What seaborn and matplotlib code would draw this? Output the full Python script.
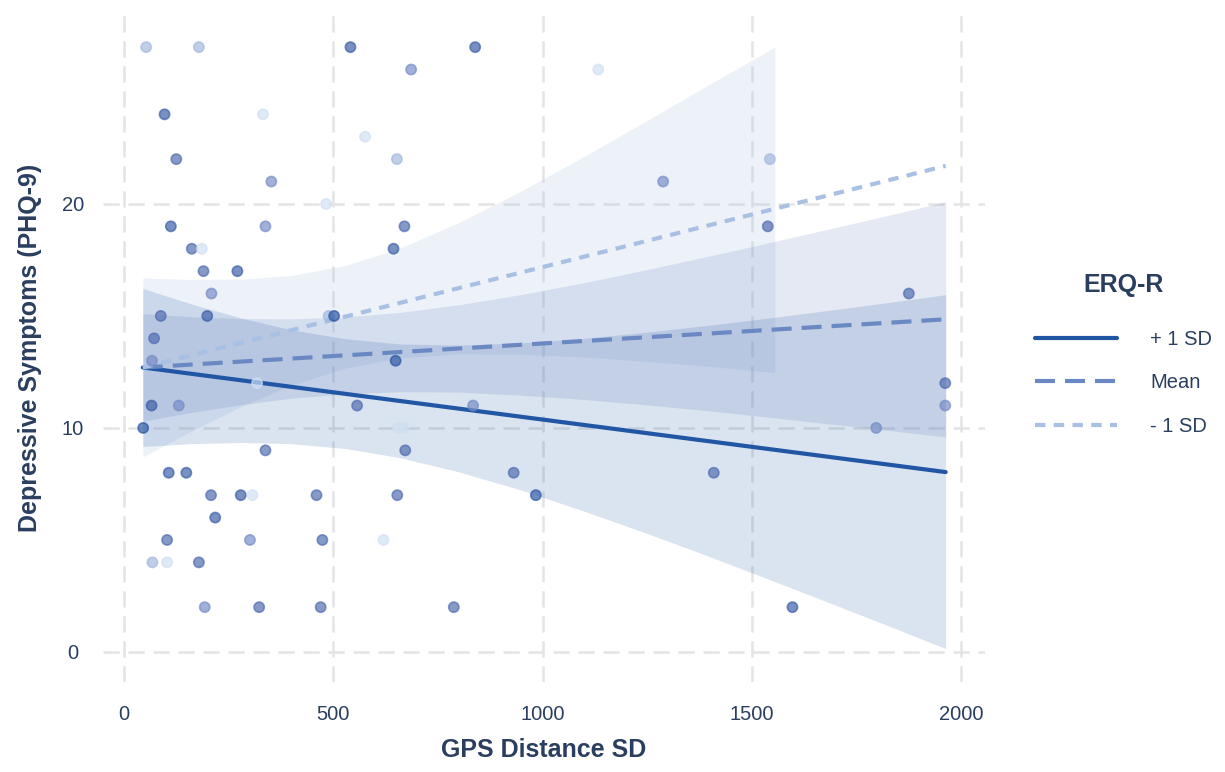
import numpy as np
import pandas as pd
import matplotlib
matplotlib.use("Agg")
import matplotlib.pyplot as plt
from matplotlib.colors import LinearSegmentedColormap
from matplotlib.lines import Line2D
import seaborn as sns

# Participants: GPS distance SD, PHQ-9 total, ERQ reappraisal score
gps_sd = [53, 179, 541, 97, 332, 125, 352, 483, 112, 338, 162, 186, 190, 271,
          209, 88, 199, 489, 502, 72, 67, 318, 66, 131, 557, 46, 338, 107, 149,
          208, 279, 307, 460, 218, 103, 301, 474, 68, 103, 179, 193, 323, 470,
          839, 686, 1133, 576, 652, 1288, 670, 644, 649, 834, 655, 667, 672,
          931, 1409, 653, 984, 620, 788, 1543, 1538, 1875, 1962, 1962, 1797,
          1597]
phq9 = [27, 27, 27, 24, 24, 22, 21, 20, 19, 19, 18, 18, 17, 17,
        16, 15, 15, 15, 15, 14, 13, 12, 11, 11, 11, 10, 9, 8, 8,
        7, 7, 7, 7, 6, 5, 5, 5, 4, 4, 4, 2, 2, 2,
        27, 26, 26, 23, 22, 21, 19, 18, 13, 11, 10, 10, 9,
        8, 8, 7, 7, 5, 2, 22, 19, 16, 12, 11, 10,
        2]
erq_r = [2.5, 2.5, 5.5, 5.5, 1.5, 4.5, 3.5, 1.5, 5.5, 3.5, 4.5, 1.5, 4.5, 5.5,
         3.5, 4.5, 5.5, 2.5, 6.5, 4.5, 3.5, 1.5, 5.5, 3.5, 4.5, 6.5, 4.5, 5.5, 5.5,
         4.5, 5.5, 1.5, 4.5, 5.5, 4.5, 3.5, 4.5, 2.5, 1.5, 4.5, 3.5, 4.5, 4.5,
         5.5, 3.5, 1.5, 1.5, 2.5, 3.5, 4.5, 5.5, 6.5, 3.5, 1.5, 1.5, 4.5,
         4.5, 4.5, 4.5, 6.5, 1.5, 4.5, 2.5, 4.5, 4.5, 4.5, 3.5, 3.5,
         5.5]

# Simple slopes of PHQ-9 on GPS distance SD at three ERQ-R levels
slope_x = [45, 1963]
plus_sd_fit = [12.70, 8.03]
mean_fit = [12.70, 14.85]
minus_sd_fit = [12.70, 21.70]

# Confidence bands around each simple slope
band_x = [45, 160, 280, 400, 530, 660, 800, 950, 1100, 1250, 1400, 1555,
          1700, 1835, 1963]
plus_sd_hi = [16.23, 15.54, 14.91, 14.38, 13.98, 13.75, 13.70, 13.80, 14.00,
              14.28, 14.59, 14.94, 15.29, 15.62, 15.95]
plus_sd_lo = [9.17, 9.30, 9.35, 9.30, 9.08, 8.67, 8.04, 7.22, 6.28, 5.29,
              4.25, 3.14, 2.09, 1.10, 0.15]
mean_hi = [15.10, 14.97, 14.88, 14.87, 14.96, 15.16, 15.50, 15.96, 16.49,
           17.07, 17.68, 18.33, 18.95, 19.53, 20.10]
mean_lo = [10.30, 10.69, 11.04, 11.33, 11.53, 11.62, 11.60, 11.46, 11.27,
           11.03, 10.76, 10.45, 10.15, 9.87, 9.60]
minus_band_x = [45, 160, 280, 400, 530, 660, 800, 950, 1100, 1250, 1400, 1555]
minus_sd_hi = [16.70, 16.63, 16.65, 16.81, 17.26, 18.03, 19.17, 20.59, 22.13,
               23.73, 25.36, 27.00]
minus_sd_lo = [8.70, 9.85, 10.96, 11.91, 12.68, 13.13, 13.31, 13.29, 13.17,
               12.97, 12.74, 12.48]

levels = ["+ 1 SD", "Mean", "- 1 SD"]
x_ticks = [0, 500, 1000, 1500, 2000]
y_ticks = [0, 10, 20]

text_color = "#2a3f5f"
line_colors = {"+ 1 SD": "#2156a5", "Mean": "#6a88c2", "- 1 SD": "#a8c0e3"}
line_dashes = {"+ 1 SD": "", "Mean": (4.8, 2.4), "- 1 SD": (2.5, 2.0)}
line_width = 3.0

sns.set_theme(style="white")
plt.rcParams["font.family"] = ["Liberation Sans", "DejaVu Sans"]

fig = plt.figure(figsize=(12.25, 7.72), dpi=100)
ax = fig.add_axes([0.0841, 0.1166, 0.7200, 0.8653])

# Dashed grid under everything
ax.set_axisbelow(True)
ax.grid(True, color="#e4e4e4", linewidth=1.8, linestyle=(0, (6.5, 3.5)))
for s in ax.spines.values():
    s.set_visible(False)

# Confidence ribbons
ax.fill_between(minus_band_x, minus_sd_lo, minus_sd_hi,
                color=line_colors["- 1 SD"], alpha=0.2, linewidth=0, zorder=1)
ax.fill_between(band_x, mean_lo, mean_hi,
                color=line_colors["Mean"], alpha=0.18, linewidth=0, zorder=1)
ax.fill_between(band_x, plus_sd_lo, plus_sd_hi,
                color=line_colors["+ 1 SD"], alpha=0.165, linewidth=0, zorder=1)

# Simple-slope lines
lines_df = pd.DataFrame({
    "GPS Distance SD": slope_x * 3,
    "PHQ-9": plus_sd_fit + mean_fit + minus_sd_fit,
    "ERQ-R": [levels[0]] * 2 + [levels[1]] * 2 + [levels[2]] * 2,
})
sns.lineplot(data=lines_df, x="GPS Distance SD", y="PHQ-9", hue="ERQ-R",
             style="ERQ-R", palette=line_colors, dashes=line_dashes,
             linewidth=line_width, sort=False, legend=False, ax=ax, zorder=3)

# Participant points shaded by ERQ-R
pt_cmap = LinearSegmentedColormap.from_list(
    "erq", [(0.0, "#cfe0f3"), (0.167, "#a9bfe3"), (0.333, "#8299cf"),
            (0.5, "#5e76b8"), (0.667, "#4262a9"), (1.0, "#2a55a2")])
pts = pd.DataFrame({"gps": gps_sd, "phq": phq9, "erq": erq_r})
sns.scatterplot(data=pts, x="gps", y="phq", hue="erq", palette=pt_cmap,
                hue_norm=(1.5, 6.5), s=54, alpha=0.68, linewidth=1.2,
                legend=False, ax=ax, zorder=5)
coll = ax.collections[-1]
coll.set_edgecolors(coll.get_facecolors())

ax.set_xlim(-50, 2057)
ax.set_ylim(-1.34, 28.48)
ax.set_xticks(x_ticks)
ax.set_yticks(y_ticks)
ax.tick_params(axis="both", length=0, labelsize=14.5, labelcolor=text_color)
ax.tick_params(axis="x", pad=16.3)
ax.tick_params(axis="y", pad=21.6)
for lbl in ax.get_yticklabels():
    lbl.set_horizontalalignment("center")

ax.set_xlabel("GPS Distance SD", fontsize=18, fontweight="bold", color=text_color)
ax.set_ylabel("Depressive Symptoms (PHQ-9)", fontsize=18, fontweight="bold",
              color=text_color)
ax.xaxis.set_label_coords(0.5, -0.1015)
ax.xaxis.label.set_verticalalignment("center")
ax.yaxis.set_label_coords(-0.0828, 0.5)
ax.yaxis.label.set_verticalalignment("center")

# Legend
handles = [Line2D([], [], color=line_colors[k], linewidth=line_width,
                  dashes=line_dashes[k] if line_dashes[k] else (None, None))
           for k in levels]
handles[0].set_linestyle("-")
leg = ax.legend(handles, levels, title="ERQ-R", loc="upper left",
                bbox_to_anchor=(1035 / 1225, 1 - 273 / 772),
                bbox_transform=fig.transFigure, frameon=False, fontsize=14.5,
                title_fontproperties={"weight": "bold", "size": 18},
                handlelength=4.07, handletextpad=1.64, labelspacing=1.2,
                borderpad=0, borderaxespad=0)
leg._legend_box.sep = 24
leg.get_title().set_color(text_color)
for t in leg.get_texts():
    t.set_color(text_color)

fig.savefig("out.png", dpi=100)
